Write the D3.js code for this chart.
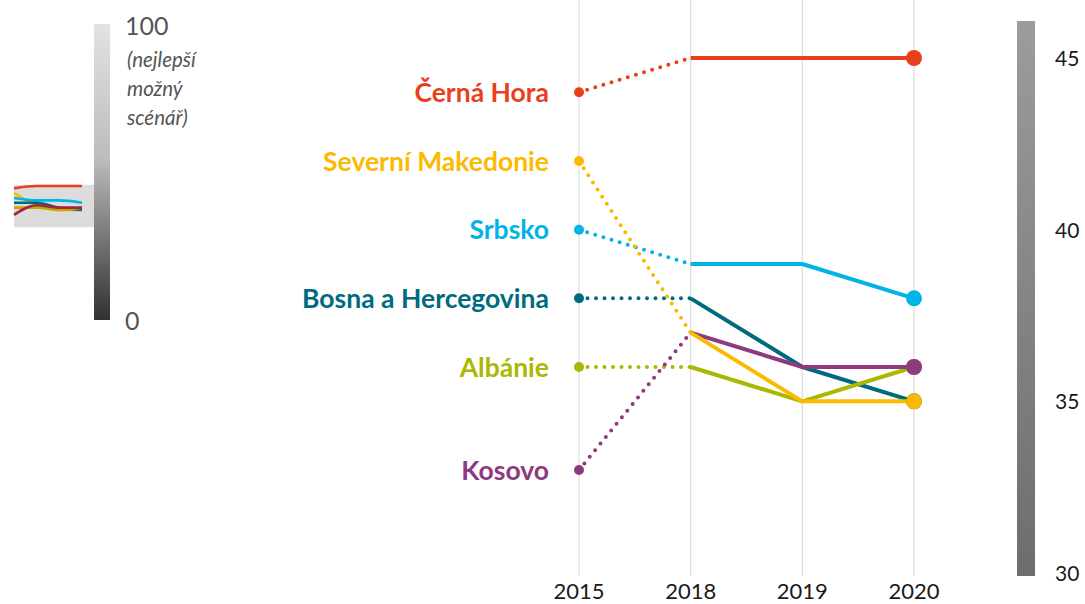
<!DOCTYPE html>
<html>
<head>
<meta charset="utf-8">
<script src="https://cdn.jsdelivr.net/npm/d3@7"></script>
<style>
  body { margin: 0; background: #fff; }
  svg { display: block; font-family: Lato, "Open Sans", sans-serif; }
</style>
</head>
<body>
<svg id="chart" width="1085" height="604"></svg>
<script>
const years = ["2015", "2018", "2019", "2020"];
const countries = ["Černá Hora", "Severní Makedonie", "Srbsko", "Bosna a Hercegovina", "Albánie", "Kosovo"];
const colors = ["#e8401c", "#fbb900", "#00b4e6", "#006b80", "#a9b800", "#8e3a80"];
const values = [
    [44, 45, 45, 45],
    [42, 37, 35, 35],
    [40, 39, 39, 38],
    [38, 38, 36, 35],
    [36, 36, 35, 36],
    [33, 37, 36, 36]
];
const rightTicks = [30, 35, 40, 45];
const leftTicks = [0, 100];

const svg = d3.select("#chart");

// main scales
const x = d3.scalePoint().domain(years).range([579, 914]);
const y = d3.scaleLinear().domain([30, 45]).range([573, 58]);

// gridlines
svg.append("g").selectAll("line")
    .data(years)
    .join("line")
    .attr("x1", d => x(d)).attr("x2", d => x(d))
    .attr("y1", 0).attr("y2", 576)
    .attr("stroke", "#dddddd").attr("stroke-width", 1.2);

svg.append("g").selectAll("text")
    .data(years)
    .join("text")
    .attr("x", d => x(d)).attr("y", 599)
    .attr("text-anchor", "middle")
    .attr("font-size", 22)
    .attr("fill", "#1a1a1a")
    .text(d => d);

// right gradient bar
const defs = svg.append("defs");
const gr = defs.append("linearGradient").attr("id", "gr").attr("x1", 0).attr("x2", 0).attr("y1", 0).attr("y2", 1);
gr.append("stop").attr("offset", "0%").attr("stop-color", "#9c9c9c");
gr.append("stop").attr("offset", "100%").attr("stop-color", "#6d6d6d");
svg.append("rect")
    .attr("x", 1017).attr("y", 21).attr("width", 18).attr("height", 555)
    .attr("fill", "url(#gr)");
svg.append("g").selectAll("text")
    .data(rightTicks)
    .join("text")
    .attr("x", 1055).attr("y", d => y(d) + 8)
    .attr("font-size", 21)
    .attr("fill", "#1a1a1a")
    .text(d => d);

// left gradient bar (0-100 overview)
const yl = d3.scaleLinear().domain([0, 100]).range([320, 24]);
const gl = defs.append("linearGradient").attr("id", "gl").attr("x1", 0).attr("x2", 0).attr("y1", 0).attr("y2", 1);
gl.append("stop").attr("offset", "0%").attr("stop-color", "#e2e2e2");
gl.append("stop").attr("offset", "45%").attr("stop-color", "#bdbdbd");
gl.append("stop").attr("offset", "100%").attr("stop-color", "#303030");
svg.append("rect")
    .attr("x", 14).attr("y", yl(45) - 2).attr("width", 80).attr("height", yl(30) - yl(45) - 2)
    .attr("fill", "#dcdcdc");
svg.append("rect")
    .attr("x", 94).attr("y", yl(100)).attr("width", 16).attr("height", yl(0) - yl(100))
    .attr("fill", "url(#gl)");
svg.append("g").selectAll("text")
    .data(leftTicks)
    .join("text")
    .attr("x", 125).attr("y", d => yl(d) + (d === 100 ? 11 : 10))
    .attr("font-size", 25)
    .attr("fill", "#555")
    .text(d => d);
svg.append("text")
    .attr("x", 127).attr("y", 67)
    .attr("font-size", 20.5).attr("font-style", "italic").attr("fill", "#555")
    .selectAll("tspan")
    .data(["(nejlepší", "možný", "scénář)"])
    .join("tspan")
    .attr("x", 127).attr("dy", (d, i) => i === 0 ? 0 : 29)
    .text(d => d);

// mini lines
const xm = d3.scalePoint().domain(years).range([14, 82]);
const ym = d3.scaleLinear().domain([30, 45]).range([222, 186]);
const miniColors = ["#e8401c", "#fbb900", "#00b4e6", "#006b80", "#c9a800", "#a3253f"];
const miniLine = d3.line().x((d, i) => xm(years[i])).y(d => ym(d)).curve(d3.curveMonotoneX);
svg.append("g").selectAll("path")
    .data(values)
    .join("path")
    .attr("d", miniLine)
    .attr("fill", "none")
    .attr("stroke", (d, i) => miniColors[i])
    .attr("stroke-width", 2.6);

// main lines, drawn so that yellow and purple sit on top like the original
const series = countries.map((c, i) => ({ name: c, color: colors[i], vals: values[i] }));
const drawOrder = [0, 2, 3, 4, 5, 1].map(i => series[i]);
const line = d3.line().x(d => x(d[0])).y(d => y(d[1]));

const g = svg.append("g");
drawOrder.forEach(s => {
    const pts = years.map((yr, i) => [yr, s.vals[i]]);
    g.append("path")
        .attr("d", line(pts.slice(0, 2)))
        .attr("fill", "none").attr("stroke", s.color)
        .attr("stroke-width", 4).attr("stroke-linecap", "round")
        .attr("stroke-dasharray", "0 8.5");
});
drawOrder.forEach(s => {
    const pts = years.map((yr, i) => [yr, s.vals[i]]);
    g.append("path")
        .attr("d", line(pts.slice(1)))
        .attr("fill", "none").attr("stroke", s.color)
        .attr("stroke-width", 4).attr("stroke-linejoin", "round");
});
drawOrder.forEach(s => {
    g.append("circle")
        .attr("cx", x(years[0])).attr("cy", y(s.vals[0])).attr("r", 5)
        .attr("fill", s.color);
    g.append("circle")
        .attr("cx", x(years[3])).attr("cy", y(s.vals[3])).attr("r", 8)
        .attr("fill", s.color);
});

// labels
svg.append("g").selectAll("text")
    .data(series)
    .join("text")
    .attr("x", 549).attr("y", d => y(d.vals[0]) + 9.5)
    .attr("text-anchor", "end")
    .attr("font-size", 26.5).attr("font-weight", "bold")
    .attr("fill", d => d.color)
    .text(d => d.name);
</script>
</body>
</html>
